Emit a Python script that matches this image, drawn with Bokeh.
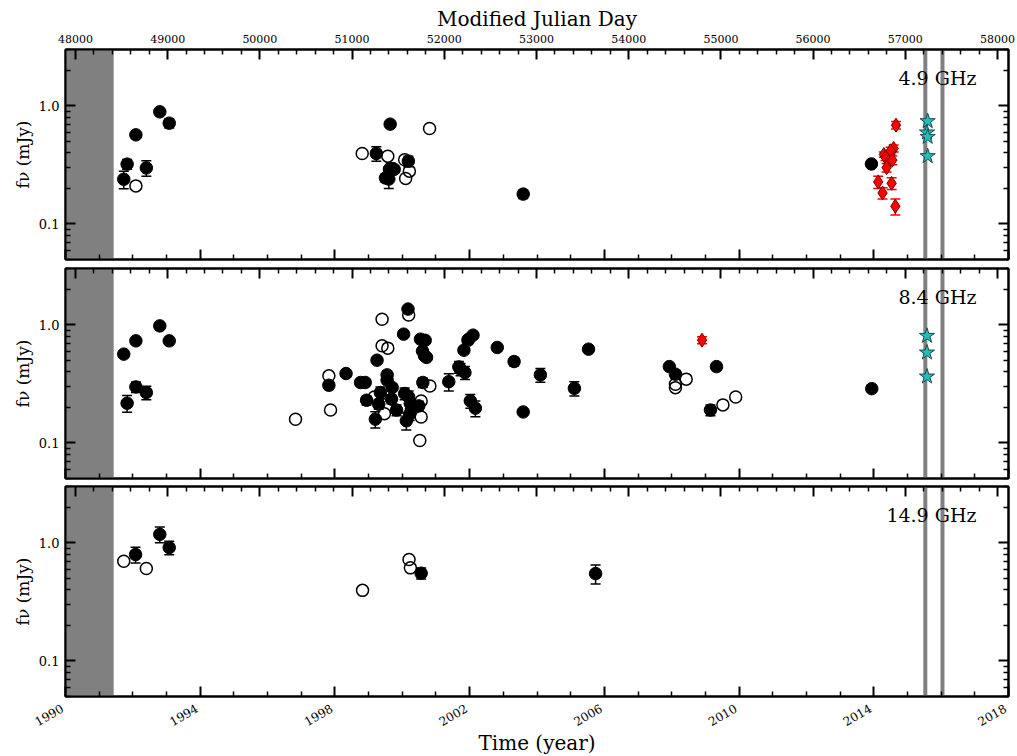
import math
from bokeh.plotting import figure
from bokeh.models import (ColumnDataSource, Whisker, TeeHead, FixedTicker, LinearAxis, LogAxis,
                          Range1d, BoxAnnotation, Span, Label, PrintfTickFormatter,
                          CustomJSTickFormatter)
from bokeh.core.properties import value
from bokeh.layouts import column
from bokeh.embed import file_html
from bokeh.resources import INLINE

FONT = "DejaVu Serif"

# ---------------- data ----------------
# 4.9 GHz
f49_det_year = [1991.73, 1991.83, 1992.09, 1992.40, 1992.80, 1993.08, 1999.23, 1999.64, 1999.60,
                1999.50, 1999.65, 1999.76, 2000.18, 2003.59, 2013.93]
f49_det_flux = [0.239, 0.321, 0.568, 0.298, 0.89, 0.713, 0.395, 0.70, 0.24,
                0.245, 0.295, 0.29, 0.34, 0.179, 0.322]
f49_det_err = [0.04, 0.03, 0.02, 0.045, 0.03, 0.065, 0.055, 0.03, 0.04,
               0.02, 0.035, 0.02, 0.035, 0.015, 0.01]
f49_open_year = [1992.09, 1998.81, 1999.57, 1999.62, 2000.07, 2000.21, 2000.10, 2000.81]
f49_open_flux = [0.21, 0.395, 0.375, 0.29, 0.35, 0.28, 0.243, 0.643]
f49_new_year = [2014.66, 2014.59, 2014.50, 2014.30, 2014.35, 2014.45, 2014.55, 2014.38,
                2014.13, 2014.53, 2014.26, 2014.64]
f49_new_flux = [0.686, 0.436, 0.416, 0.387, 0.365, 0.34, 0.347, 0.30,
                0.227, 0.221, 0.183, 0.141]
f49_new_err = [0.05, 0.03, 0.03, 0.02, 0.02, 0.02, 0.03, 0.025,
               0.027, 0.025, 0.02, 0.022]
f49_star_year = [2015.60, 2015.58, 2015.60, 2015.60]
f49_star_flux = [0.742, 0.595, 0.546, 0.375]

# 8.4 GHz
f84_det_year = [1991.73, 1991.83, 1992.09, 1992.09, 1992.40, 1992.80, 1993.08, 1997.82, 1998.33,
                1998.76, 1998.90, 1998.94, 1999.25, 1999.55, 1999.55, 1999.35, 1999.30, 1999.70,
                1999.68, 1999.20, 1999.83, 2000.07, 2000.19, 2000.12, 2000.24, 2000.22, 2000.49,
                2000.61, 2000.17, 2000.04, 2000.54, 2000.68, 2000.60, 2000.66, 2000.72, 2001.38,
                2001.68, 2001.73, 2001.86, 2001.83, 2001.97, 2002.10, 2002.02, 2002.17, 2002.82,
                2003.32, 2003.59, 2004.10, 2005.11, 2005.53, 2007.93, 2008.11, 2009.33, 2009.15,
                2013.94]
f84_det_flux = [0.565, 0.217, 0.732, 0.298, 0.267, 0.98, 0.732, 0.308, 0.387,
                0.325, 0.325, 0.23, 0.502, 0.377, 0.34, 0.267, 0.213, 0.295,
                0.235, 0.159, 0.19, 0.262, 0.245, 0.154, 0.215, 0.175, 0.206,
                0.325, 1.36, 0.834, 0.756, 0.74, 0.60, 0.547, 0.53, 0.33,
                0.44, 0.42, 0.394, 0.61, 0.756, 0.818, 0.227, 0.197, 0.643,
                0.489, 0.183, 0.377, 0.29, 0.622, 0.443, 0.382, 0.443, 0.19,
                0.288]
f84_det_err = [0.03, 0.035, 0.02, 0.03, 0.035, 0.02, 0.02, 0.025, 0.01,
               0.02, 0.02, 0.02, 0.03, 0.03, 0.02, 0.03, 0.02, 0.02,
               0.02, 0.025, 0.02, 0.03, 0.03, 0.025, 0.02, 0.02, 0.02,
               0.03, 0.02, 0.02, 0.02, 0.02, 0.02, 0.02, 0.02, 0.055,
               0.05, 0.05, 0.05, 0.03, 0.03, 0.03, 0.03, 0.03, 0.03,
               0.04, 0.01, 0.05, 0.04, 0.02, 0.02, 0.03, 0.02, 0.02,
               0.01]
f84_open_year = [1996.83, 1997.82, 1997.87, 1999.40, 2000.19, 1999.40, 1999.57, 1999.47, 1999.17,
                 2000.56, 2000.56, 2000.52, 2000.82, 2001.95, 2008.11, 2008.11, 2008.43, 2009.52,
                 2009.90]
f84_open_flux = [0.159, 0.37, 0.19, 1.117, 1.21, 0.664, 0.635, 0.177, 0.245,
                 0.227, 0.166, 0.105, 0.304, 0.74, 0.314, 0.294, 0.347, 0.21,
                 0.245]
f84_new_year = [2008.90]
f84_new_flux = [0.742]
f84_new_err = [0.05]
f84_star_year = [2015.58, 2015.58, 2015.58]
f84_star_flux = [0.807, 0.583, 0.365]

# 14.9 GHz
f149_det_year = [1992.08, 1992.80, 1993.08, 2000.56, 2005.74]
f149_det_flux = [0.796, 1.18, 0.912, 0.553, 0.549]
f149_det_err = [0.12, 0.18, 0.12, 0.06, 0.1]
f149_open_year = [1991.73, 1992.40, 1998.82, 2000.20, 2000.24]
f149_open_flux = [0.698, 0.606, 0.396, 0.722, 0.614]

band_labels = ["4.9 GHz", "8.4 GHz", "14.9 GHz"]

YEAR_MIN, YEAR_MAX = 1990, 2018
MJD_AT_1990 = 47892.0
DAYS_PER_YEAR = 365.25
FLUX_MIN, FLUX_MAX = 0.05, 3.0
SHADE_END = 1991.43
VLINES = [2015.53, 2016.04]

year_major = list(range(1990, 2019, 4))
year_minor = [y for y in range(1990, 2019) if y not in year_major]
mjd_major = list(range(48000, 58001, 1000))
mjd_minor = [m for m in range(47800, 58200, 200) if m % 1000 != 0]
flux_major = [0.1, 1.0]
flux_minor = [0.05, 0.06, 0.07, 0.08, 0.09, 0.2, 0.3, 0.4, 0.5, 0.6, 0.7, 0.8, 0.9, 2.0, 3.0]

GREY = "#808080"
FRAME_W, FRAME_H = 943, 210
LEFT, RIGHT = 65, 8
PX_PER_YEAR = FRAME_W / (YEAR_MAX - YEAR_MIN)
STRIP_BORDER = 2
STRIP_W = LEFT + FRAME_W + RIGHT - STRIP_BORDER
STRIP_H = 57


def style_axis(ax, show_labels, size="12px"):
    ax.major_tick_in = 10
    ax.major_tick_out = 0
    ax.minor_tick_in = 5
    ax.minor_tick_out = 0
    ax.major_tick_line_width = 2
    ax.minor_tick_line_width = 1.5
    ax.axis_line_width = 2
    ax.axis_line_color = "black"
    ax.major_label_text_font = FONT
    ax.major_label_text_color = "black"
    ax.axis_label_text_font = FONT
    ax.axis_label_text_font_style = "normal"
    ax.axis_label_text_color = "black"
    if show_labels:
        ax.major_label_text_font_size = size
    else:
        ax.formatter = CustomJSTickFormatter(code="return ''")
        ax.major_label_text_font_size = "1px"
        ax.major_label_text_color = None
        ax.major_label_standoff = 0


def make_panel(idx, det, opn, new, star, top_labels, borders):
    mjd_range = Range1d(MJD_AT_1990, MJD_AT_1990 + (YEAR_MAX - YEAR_MIN) * DAYS_PER_YEAR)
    p = figure(x_range=Range1d(YEAR_MIN, YEAR_MAX), y_range=Range1d(FLUX_MIN, FLUX_MAX),
               y_axis_type="log", frame_width=FRAME_W, frame_height=FRAME_H,
               output_backend="svg", toolbar_location=None,
               min_border_left=LEFT, min_border_right=RIGHT,
               min_border_top=borders[0], min_border_bottom=borders[1])
    p.extra_x_ranges = {"mjd": mjd_range}
    p.grid.visible = False
    p.outline_line_color = "black"
    p.outline_line_width = 2
    p.background_fill_color = "white"
    p.border_fill_color = "white"

    # bottom year axis (ticks only)
    xa = p.xaxis[0]
    xa.ticker = FixedTicker(ticks=year_major, minor_ticks=year_minor)
    style_axis(xa, False)

    # left flux axis
    ya = p.yaxis[0]
    ya.ticker = FixedTicker(ticks=flux_major, minor_ticks=flux_minor)
    ya.formatter = PrintfTickFormatter(format="%.1f")
    style_axis(ya, True, "13px")
    ya.axis_label = "f\u03bd (mJy)"
    ya.axis_label_text_font_size = "17px"
    ya.axis_label_standoff = 3
    ya.major_label_standoff = 6

    # right flux axis (ticks only)
    yr_ax = LogAxis(ticker=FixedTicker(ticks=flux_major, minor_ticks=flux_minor))
    style_axis(yr_ax, False)
    p.add_layout(yr_ax, "right")

    # top MJD axis
    xt = LinearAxis(x_range_name="mjd",
                    ticker=FixedTicker(ticks=mjd_major, minor_ticks=mjd_minor))
    style_axis(xt, top_labels, "11px")
    if top_labels:
        xt.axis_label = "Modified Julian Day"
        xt.axis_label_text_font_size = "20px"
        xt.axis_label_standoff = 1
        xt.major_label_standoff = 7
    p.add_layout(xt, "above")

    # shaded region and vertical lines
    shade = BoxAnnotation(left=YEAR_MIN, right=SHADE_END, fill_color=GREY, fill_alpha=1.0,
                          line_alpha=0, level="underlay")
    p.add_layout(shade)
    for v in VLINES:
        p.add_layout(Span(location=v, dimension="height", line_color=GREY, line_width=4,
                          level="underlay"))

    # open circles
    if opn is not None:
        p.scatter(x=opn[0], y=opn[1], marker="circle", size=12, fill_alpha=0,
                  line_color="black", line_width=1.5)

    # detections with error bars
    if det is not None:
        src = ColumnDataSource(dict(x=det[0], y=det[1],
                                    lo=[v - e for v, e in zip(det[1], det[2])],
                                    hi=[v + e for v, e in zip(det[1], det[2])]))
        w = Whisker(base="x", lower="lo", upper="hi", source=src, dimension="height",
                    line_color="black", line_width=1.5,
                    upper_head=TeeHead(size=10, line_color="black", line_width=1.5),
                    lower_head=TeeHead(size=10, line_color="black", line_width=1.5))
        p.add_layout(w)
        p.scatter(x="x", y="y", source=src, marker="circle", size=12.5,
                  fill_color="black", line_color="black")

    if new is not None:
        src = ColumnDataSource(dict(x=new[0], y=new[1],
                                    lo=[v - e for v, e in zip(new[1], new[2])],
                                    hi=[v + e for v, e in zip(new[1], new[2])]))
        w = Whisker(base="x", lower="lo", upper="hi", source=src, dimension="height",
                    line_color="red", line_width=1.5,
                    upper_head=TeeHead(size=10, line_color="red", line_width=1.5),
                    lower_head=TeeHead(size=10, line_color="red", line_width=1.5))
        p.add_layout(w)
        p.scatter(x="x", y="y", source=src, marker="diamond", size=14,
                  fill_color="red", line_color="#7a0000", line_width=1)

    if star is not None:
        p.scatter(x=star[0], y=star[1], marker="star", size=16,
                  fill_color="#1fbfbf", line_color="#1d4a4a", line_width=1)

    p.add_layout(Label(x=2017.05, y=1.72, text=band_labels[idx], text_align="right",
                       text_baseline="middle", text_font=FONT, text_font_size="19px",
                       text_color="black"))
    return p


p1 = make_panel(0, (f49_det_year, f49_det_flux, f49_det_err), (f49_open_year, f49_open_flux),
                (f49_new_year, f49_new_flux, f49_new_err), (f49_star_year, f49_star_flux),
                True, (49, 4))
p2 = make_panel(1, (f84_det_year, f84_det_flux, f84_det_err), (f84_open_year, f84_open_flux),
                (f84_new_year, f84_new_flux, f84_new_err), (f84_star_year, f84_star_flux),
                False, (5, 4))
p3 = make_panel(2, (f149_det_year, f149_det_flux, f149_det_err), (f149_open_year, f149_open_flux),
                None, None, False, (4, 2))

# strip below the bottom panel carrying the rotated year labels and the x title
strip_start = YEAR_MIN - (LEFT - STRIP_BORDER) / PX_PER_YEAR
strip = figure(x_range=Range1d(strip_start, strip_start + STRIP_W / PX_PER_YEAR),
               y_range=Range1d(0, STRIP_H), frame_width=STRIP_W,
               frame_height=STRIP_H, min_border_left=STRIP_BORDER, min_border_right=0,
               min_border_top=0, min_border_bottom=0, x_axis_location=None,
               y_axis_location=None, output_backend="svg", toolbar_location=None)
strip.frame_align = False
strip.outline_line_color = None
strip.grid.visible = False
strip.background_fill_color = "white"
strip.border_fill_color = "white"
strip.text(x=year_major, y=[STRIP_H - 4] * len(year_major), text=[str(y) for y in year_major],
           angle=math.pi / 6, text_align="right", text_baseline="top", x_offset=-6,
           text_font=value(FONT), text_font_size="12px", text_color="black")
strip.text(x=[(YEAR_MIN + YEAR_MAX) / 2], y=[12.5], text=["Time (year)"], text_align="center",
           text_baseline="middle", text_font=value(FONT), text_font_size="20px",
           text_color="black")

layout = column(p1, p2, p3, strip)
open("out.html", "w").write(file_html(layout, INLINE))
